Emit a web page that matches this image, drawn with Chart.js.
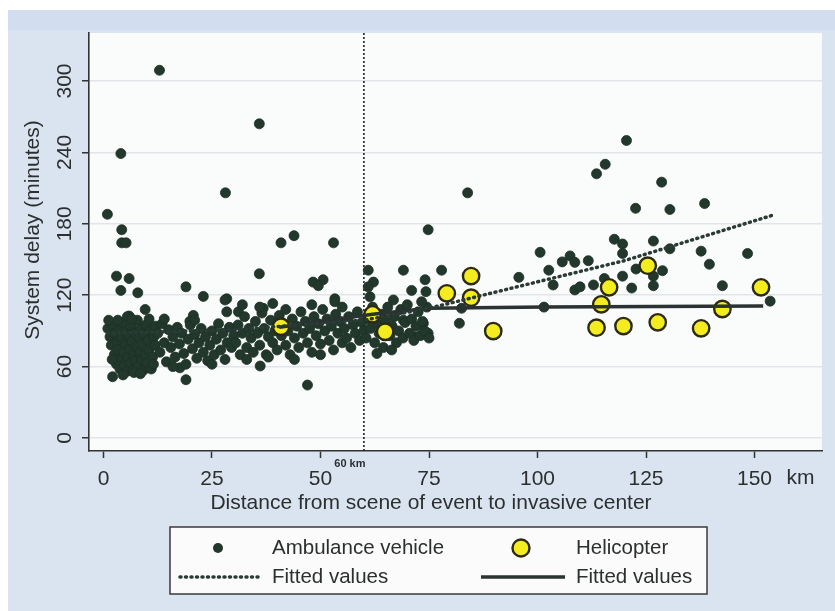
<!DOCTYPE html>
<html>
<head>
<meta charset="utf-8">
<script src="https://cdn.jsdelivr.net/npm/chart.js@4.4.1/dist/chart.umd.min.js"></script>
<style>
  html, body { margin: 0; padding: 0; background: #fff; }
  canvas { display: block; }
</style>
</head>
<body>
<canvas id="delay" width="835" height="611"></canvas>
<script>
// axis ticks
const xTicks = [0, 25, 50, 75, 100, 125, 150];
const yTicks = [0, 60, 120, 180, 240, 300];
const cutoffKm = 60;

// ambulance: [distance km, delay min]
const ambulance = [
  // outliers, left half
  [12.9,309],[35.9,264],[4.0,239],[28.1,206],[0.9,188],[4.2,175],[4.2,164],[5.2,164],[40.9,164],[43.9,170],
  [53.0,164],[3.0,136],[5.9,134],[4.0,124],[7.9,122],[19.0,127],[35.9,138],[48.3,131],[50.6,133],[49.5,128],
  [61.0,141],[62.2,131],[61.0,127],[69.1,141],[71.0,124],[23.0,119],[28.4,117],[53.3,117],[9.6,108],[5.9,102.5],
  [20.7,103],[19.9,98],[28.0,116],[28.4,106],[2.1,51.5],[19.0,49],[17.6,59],[53.3,114.5],[31.1,106],[36.1,60.5],
  [47.0,44.5],[36.8,109],[74.1,133],[77.9,141],[74.3,123],
  // right half
  [120.5,250],[115.6,230],[113.6,222],[83.9,206],[128.6,215],[122.6,193],[130.5,192],[138.5,197],[74.8,175],[117.7,167],
  [119.6,163],[119.6,155],[126.7,165.5],[130.5,159],[137.7,157],[139.6,146],[148.4,155],[100.6,156],[102.6,141],[105.7,148],
  [107.5,153],[108.6,147.6],[111.7,149],[95.7,135],[103.6,128.6],[108.6,124.4],[109.8,127],[112.9,128.6],[119.6,136],[122.7,142],
  [128.8,140.6],[126.7,136],[126.7,128],[121.7,126],[142.6,128],[153.6,115],[82.0,96.4],[101.5,110],[69.1,99],[71.8,85],
  [73.7,96.4],[74.8,88],[115.4,134],[82.5,109],
  // dense cluster 0-12 km
  [1.0,92],[1.5,85],[1.8,78],[2.2,95],[2.5,70],[2.6,88],[3.0,62],[3.1,80],[3.4,74],[3.6,91],
  [3.8,58],[4.0,67],[4.2,84],[4.4,97],[4.6,72],[4.8,61],[5.0,79],[5.2,90],[5.4,56],[5.6,68],
  [5.8,86],[6.0,75],[6.2,63],[6.4,94],[6.6,81],[6.8,57],[7.0,70],[7.2,88],[7.4,65],[7.6,77],
  [7.8,99],[8.0,60],[8.2,84],[8.4,72],[8.6,92],[8.8,66],[9.0,79],[9.2,57],[9.4,87],[9.6,70],
  [9.8,95],[10.0,63],[10.2,82],[10.5,74],[10.8,90],[11.0,58],[11.3,68],[11.6,85],[11.9,78],[2.0,66],
  [3.3,99],[5.5,102],[6.5,100],[1.2,99],[7.0,55],[8.5,54],[4.5,53],[10.5,100],[12.0,94],[11.5,62],
  // 12-30 km
  [12.5,88],[13.0,72],[13.5,96],[14.0,80],[14.5,64],[15.0,91],[15.5,76],[16.0,85],[16.5,68],[17.0,93],
  [17.5,79],[18.0,88],[18.5,71],[19.0,62],[19.5,83],[20.0,95],[20.5,75],[21.0,87],[21.5,67],[22.0,80],
  [22.5,92],[23.0,72],[23.5,85],[24.0,65],[24.5,78],[25.0,90],[25.5,70],[26.0,83],[26.5,96],[27.0,74],
  [27.5,88],[28.0,66],[28.5,80],[29.0,93],[29.5,76],[30.0,86],[14.0,100],[21.0,99],[16.0,60],[25.0,62],
  // 30-60 km
  [30.5,80],[31.0,95],[31.5,70],[32.0,88],[32.5,102],[33.0,76],[33.5,92],[34.0,84],[34.5,72],[35.0,98],
  [35.5,88],[36.0,78],[36.5,105],[37.0,92],[37.5,70],[38.0,85],[38.5,99],[39.0,80],[39.5,90],[40.0,74],
  [40.5,103],[41.0,86],[41.5,96],[42.0,78],[42.5,90],[43.0,70],[43.5,100],[44.0,84],[44.5,94],[45.0,76],
  [45.5,106],[46.0,88],[46.5,98],[47.0,80],[47.5,92],[48.0,72],[48.5,102],[49.0,86],[49.5,96],[50.0,79],
  [50.5,108],[51.0,90],[51.5,100],[52.0,82],[52.5,94],[53.0,74],[53.5,104],[54.0,88],[54.5,98],[55.0,80],
  [55.5,92],[56.0,84],[56.5,102],[57.0,76],[57.5,95],[58.0,88],[58.5,106],[59.0,82],[59.5,97],[60.0,90],
  [33.0,66],[38.0,68],[44.0,66],[50.0,70],[36.0,110],[42.0,108],[48.0,112],[55.0,110],[32.0,112],[39.0,113],
  // 60-75 km
  [60.5,84],[61.0,100],[61.5,92],[62.0,110],[62.5,80],[63.0,96],[63.5,88],[64.0,104],[64.5,76],[65.0,98],
  [65.5,110],[66.0,86],[66.5,94],[67.0,102],[67.5,80],[68.0,90],[68.5,108],[69.0,84],[69.5,97],[70.0,112],
  [70.5,88],[71.0,100],[71.5,82],[72.0,94],[72.5,106],[73.0,86],[73.5,98],[74.0,90],[74.5,110],[75.0,84],
  [66.4,74],[61.4,118.7],[66.8,116],[73.3,114.5],[63.0,71]
];

// helicopter: [distance km, delay min]
const helicopter = [
  [40.9,93.5],[62.0,103.9],[64.9,89.3],[79.1,121.6],[84.7,136.1],[84.7,117.9],[89.8,89.9],[116.5,126.6],
  [114.7,112.3],[113.6,92.7],[119.8,94.1],[127.7,97.2],[125.4,144.8],[137.7,92.2],[142.6,108.4],[151.5,126.6]
];

// fitted lines
const ambulanceFit = [[1,88],[30,91],[60,99],[75,109],[120,149],[154,187]];
const helicopterFit = [[40.5,93],[62,104],[75,109],[101.5,110],[152,111]];

const font = '"Liberation Sans", Arial, sans-serif';
const ink = '#2b2f2e';
const dotColor = '#22382c';
const yellow = '#f3ec1e';
const yellowEdge = '#2c2a14';

const toXY = arr => arr.map(p => ({x: p[0], y: p[1]}));

const decor = {
  id: 'decor',
  beforeDraw(chart) {
    const {ctx, chartArea: a} = chart;
    ctx.save();
    ctx.fillStyle = '#ffffff';
    ctx.fillRect(0, 0, chart.width, chart.height);
    ctx.fillStyle = '#dae4f1';
    ctx.fillRect(8, 10, chart.width - 8, chart.height - 10);
    ctx.fillStyle = '#d2deef';
    ctx.fillRect(8, 10, chart.width - 8, 20);
    ctx.fillStyle = '#fafbfb';
    ctx.fillRect(a.left, a.top, a.right - a.left, a.bottom - a.top);
    ctx.restore();
  },
  beforeDatasetsDraw(chart) {
    const {ctx, chartArea: a} = chart;
    const x = chart.scales.x.getPixelForValue(cutoffKm);
    ctx.save();
    ctx.strokeStyle = '#222';
    ctx.lineWidth = 1.6;
    ctx.setLineDash([2, 2]);
    ctx.beginPath();
    ctx.moveTo(x, a.top);
    ctx.lineTo(x, a.bottom);
    ctx.stroke();
    ctx.restore();
  },
  afterDraw(chart) {
    const {ctx, chartArea: a} = chart;
    const xs = chart.scales.x, ys = chart.scales.y;
    ctx.save();
    ctx.fillStyle = ink;
    ctx.font = '21px ' + font;
    ctx.textAlign = 'center';
    ctx.textBaseline = 'middle';
    // x tick labels
    xTicks.forEach(v => ctx.fillText(String(v), xs.getPixelForValue(v), a.bottom + 28));
    ctx.fillText('km', xs.getPixelForValue(150) + 46, a.bottom + 27);
    // y tick labels, rotated
    yTicks.forEach(v => {
      ctx.save();
      ctx.translate(a.left - 24, ys.getPixelForValue(v));
      ctx.rotate(-Math.PI / 2);
      ctx.fillText(String(v), 0, 0);
      ctx.restore();
    });
    // axis titles
    ctx.fillText('Distance from scene of event to invasive center', 431, 503);
    ctx.save();
    ctx.translate(33, 230);
    ctx.rotate(-Math.PI / 2);
    ctx.fillText('System delay (minutes)', 0, 0);
    ctx.restore();
    // 60 km note
    ctx.font = 'bold 11px ' + font;
    ctx.fillText('60 km', xs.getPixelForValue(cutoffKm) - 14, a.bottom + 13);

    // legend
    const L = {x: 170, y: 527, w: 537, h: 67};
    ctx.fillStyle = '#fbfbfb';
    ctx.fillRect(L.x, L.y, L.w, L.h);
    ctx.strokeStyle = '#3a3a3a';
    ctx.lineWidth = 1.5;
    ctx.strokeRect(L.x, L.y, L.w, L.h);
    const r1 = 548, r2 = 577;
    ctx.fillStyle = dotColor;
    ctx.beginPath(); ctx.arc(218, r1, 5, 0, Math.PI * 2); ctx.fill();
    ctx.fillStyle = yellow;
    ctx.strokeStyle = yellowEdge;
    ctx.lineWidth = 2.4;
    ctx.beginPath(); ctx.arc(521, r1, 8.5, 0, Math.PI * 2); ctx.fill(); ctx.stroke();
    ctx.strokeStyle = '#2a3a35';
    ctx.lineWidth = 3.5;
    ctx.lineCap = 'round';
    ctx.setLineDash([1, 4.5]);
    ctx.beginPath(); ctx.moveTo(180, r2); ctx.lineTo(260, r2); ctx.stroke();
    ctx.setLineDash([]);
    ctx.lineCap = 'butt';
    ctx.strokeStyle = '#2a3232';
    ctx.beginPath(); ctx.moveTo(481, r2); ctx.lineTo(565, r2); ctx.stroke();
    ctx.fillStyle = ink;
    ctx.font = '20.5px ' + font;
    ctx.textAlign = 'left';
    ctx.fillText('Ambulance vehicle', 272, r1);
    ctx.fillText('Helicopter', 576, r1);
    ctx.fillText('Fitted values', 272, r2);
    ctx.fillText('Fitted values', 576, r2);
    ctx.restore();
  }
};

new Chart(document.getElementById('delay'), {
  type: 'scatter',
  data: {
    datasets: [
      {
        label: 'Fitted values',
        data: toXY(ambulanceFit),
        showLine: true,
        pointRadius: 0,
        borderColor: '#2a3a35',
        borderWidth: 3.5,
        borderDash: [1, 4.5],
        borderCapStyle: 'round',
        order: 1
      },
      {
        label: 'Fitted values',
        data: toXY(helicopterFit),
        showLine: true,
        pointRadius: 0,
        borderColor: '#2a3232',
        borderWidth: 3.5,
        order: 2
      },
      {
        label: 'Helicopter',
        data: toXY(helicopter),
        pointRadius: 8.2,
        pointBorderWidth: 2.4,
        backgroundColor: yellow,
        borderColor: yellowEdge,
        order: 3
      },
      {
        label: 'Ambulance vehicle',
        data: toXY(ambulance),
        pointRadius: 5,
        pointBorderWidth: 0.8,
        backgroundColor: dotColor,
        borderColor: '#1d3026',
        order: 4
      }
    ]
  },
  options: {
    responsive: false,
    animation: false,
    layout: { padding: { left: 0, top: 33, right: 13, bottom: 0 } },
    plugins: { legend: { display: false }, tooltip: { enabled: false } },
    scales: {
      x: {
        type: 'linear',
        min: -3.34,
        max: 165.55,
        afterBuildTicks: s => { s.ticks = xTicks.map(v => ({value: v})); },
        afterFit: s => { s.height = 160; },
        ticks: { display: false },
        grid: { drawOnChartArea: false, drawTicks: true, tickLength: 7, tickColor: '#333', tickWidth: 1.5 },
        border: { display: true, color: '#333', width: 1.6 }
      },
      y: {
        type: 'linear',
        min: -10.9,
        max: 340.3,
        afterBuildTicks: s => { s.ticks = yTicks.map(v => ({value: v})); },
        afterFit: s => { s.width = 89; },
        ticks: { display: false },
        grid: { color: '#e1e5e9', lineWidth: 1.5, drawTicks: true, tickLength: 7, tickColor: '#333', tickWidth: 1.5 },
        border: { display: true, color: '#333', width: 1.6 }
      }
    }
  },
  plugins: [decor]
});
</script>
</body>
</html>
